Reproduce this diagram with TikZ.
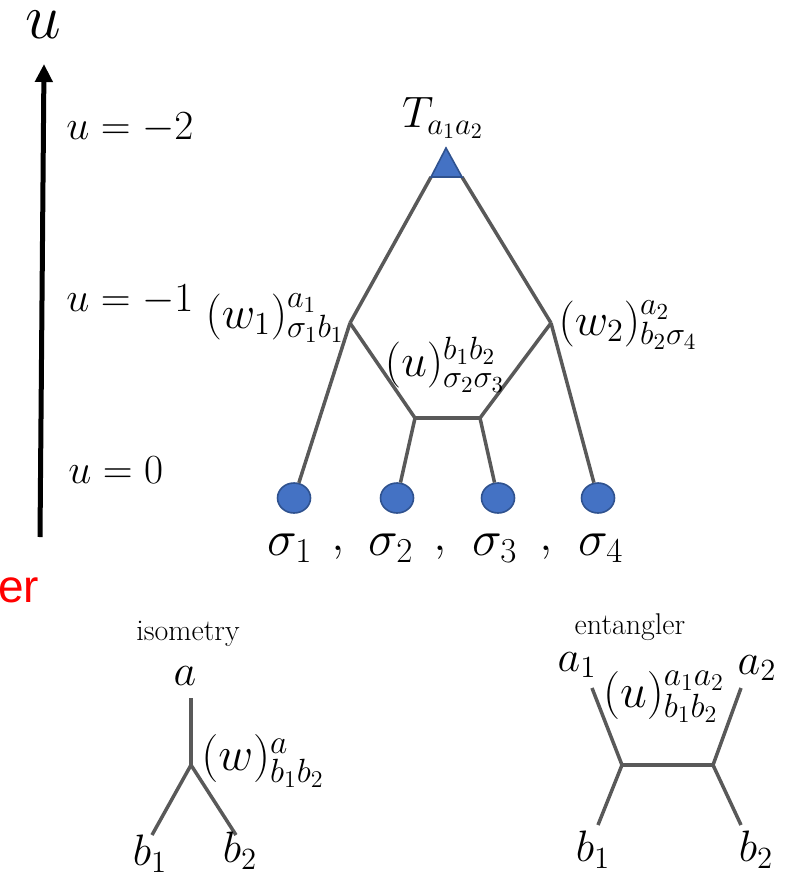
\RequirePackage{fix-cm}
\documentclass[tikz,border=0pt]{standalone}
\usepackage{fontspec}
\newfontfamily\layerfont{Liberation Sans}
\usetikzlibrary{arrows.meta,shapes.geometric}
\definecolor{bondgray}{HTML}{595959}
\definecolor{siteblue}{HTML}{4472C4}
\definecolor{siteedge}{HTML}{2F528F}

\begin{document}
\begin{tikzpicture}[x=0.5pt,y=-0.5pt,
  bond/.style={draw=bondgray, line width=1.75pt},
  site/.style={ellipse, draw=siteedge, fill=siteblue, line width=0.8pt, minimum width=16.5pt, minimum height=15pt, inner sep=0pt},
  lbl/.style={inner sep=0pt, font=\fontsize{20.7}{20.7}\selectfont},
  idx/.style={inner sep=0pt, font=\fontsize{22}{22}\selectfont},
  tlbl/.style={inner sep=0pt, font=\fontsize{23}{23}\selectfont},
  small/.style={inner sep=0pt, font=\fontsize{15}{15}\selectfont}]
\useasboundingbox (0,0) rectangle (800,873);
\clip (0,0) rectangle (800,873);

% level axis
\coordinate (axbot) at (40,537);
\coordinate (axtop) at (44,64);
\draw[line width=2.5pt, -{Triangle[width=8.5pt,length=9pt]}] (axbot) -- (axtop);
\node[inner sep=0pt, font=\fontsize{32}{32}\selectfont] (uaxis) at (43,25) {$u$};
\node[lbl, anchor=west] (lev2) at (66,128) {$u=-2$};
\node[lbl, anchor=west] (lev1) at (66,300) {$u=-1$};
\node[lbl, anchor=west] (lev0) at (68,470) {$u=0$};
\node[anchor=base west, inner sep=0pt, text=red, font=\layerfont\fontsize{23}{23}\selectfont] (layer) at (-2,602) {er};

% network
\coordinate (tl) at (431,177);
\coordinate (tr) at (462,177);
\coordinate (tp) at (446,148);
\coordinate (w1) at (350,323);
\coordinate (w2) at (551,323);
\coordinate (ul) at (415,418);
\coordinate (ur) at (480,418);
\node[site] (s1) at (294,498) {};
\node[site] (s2) at (397,498) {};
\node[site] (s3) at (498,498) {};
\node[site] (s4) at (598,498) {};

\draw[bond] (tl) -- (w1);
\draw[bond] (tr) -- (w2);
\draw[bond] (w1) -- (s1);
\draw[bond] (w1) -- (ul);
\draw[bond] (w2) -- (s4);
\draw[bond] (w2) -- (ur);
\draw[bond] (ul) -- (ur);
\draw[bond] (ul) -- (s2);
\draw[bond] (ur) -- (s3);
\filldraw[draw=siteedge, fill=siteblue, line width=0.8pt] (tl) -- (tp) -- (tr) -- cycle;

\node[idx] (tlab) at (443,118) {$T_{a_1a_2}$};
\node[tlbl] (w1lab) at (275,318) {$(w_1)^{a_1}_{\sigma_1b_1}$};
\node[tlbl] (ulab) at (445,365) {$(u)^{b_1b_2}_{\sigma_2\sigma_3}$};
\node[tlbl] (w2lab) at (628,325) {$(w_2)^{a_2}_{b_2\sigma_4}$};

\node[font=\fontsize{25}{25}\selectfont, inner sep=0pt] (sig1) at (290,548) {$\sigma_1$};
\node[font=\fontsize{25}{25}\selectfont, inner sep=0pt] (sig2) at (391,548) {$\sigma_2$};
\node[font=\fontsize{25}{25}\selectfont, inner sep=0pt] (sig3) at (495,548) {$\sigma_3$};
\node[font=\fontsize{25}{25}\selectfont, inner sep=0pt] (sig4) at (601,548) {$\sigma_4$};
\node[tlbl] (c1) at (338,553) {$,$};
\node[tlbl] (c2) at (440,553) {$,$};
\node[tlbl] (c3) at (546,553) {$,$};

% isometry
\node[small] (isoname) at (188,634) {isometry};
\node[idx] (isoa) at (185,676) {$a$};
\coordinate (isotop) at (191,698);
\coordinate (isomid) at (191,765);
\coordinate (isob1) at (152,835);
\coordinate (isob2) at (236,835);
\draw[bond] (isotop) -- (isomid);
\draw[bond] (isomid) -- (isob1);
\draw[bond] (isomid) -- (isob2);
\node[inner sep=0pt, font=\fontsize{24}{24}\selectfont] (isow) at (263,761) {$(w)^a_{b_1b_2}$};
\node[idx] (isob1lab) at (150,854) {$b_1$};
\node[idx] (isob2lab) at (240,851) {$b_2$};

% entangler
\node[small] (entname) at (630,627) {entangler};
\node[idx] (enta1) at (577,665) {$a_1$};
\node[idx] (enta2) at (757,668) {$a_2$};
\coordinate (entta) at (592,688);
\coordinate (enttb) at (741,688);
\coordinate (entl) at (622,765);
\coordinate (entr) at (713,765);
\coordinate (entba) at (598,825);
\coordinate (entbb) at (741,825);
\draw[bond] (entta) -- (entl);
\draw[bond] (entl) -- (entr);
\draw[bond] (entr) -- (enttb);
\draw[bond] (entl) -- (entba);
\draw[bond] (entr) -- (entbb);
\node[inner sep=0pt, font=\fontsize{24}{24}\selectfont] (entu) at (664,697) {$(u)^{a_1a_2}_{b_1b_2}$};
\node[idx] (entb1lab) at (593,850) {$b_1$};
\node[idx] (entb2lab) at (756,850) {$b_2$};
\end{tikzpicture}
\end{document}
